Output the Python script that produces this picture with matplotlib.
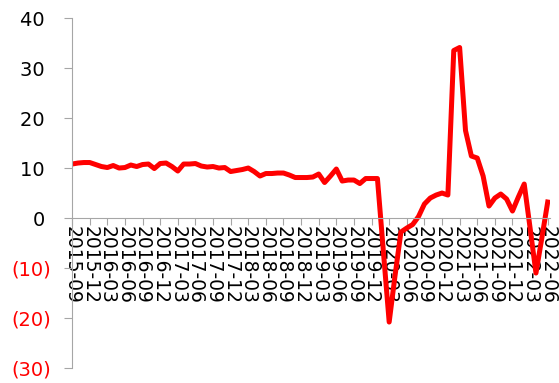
"""Monthly growth line chart, 2015-09 to 2022-06."""
import pandas as pd
import matplotlib
matplotlib.use("Agg")
import matplotlib.pyplot as plt

plt.rcParams.update({"font.family": "DejaVu Sans", "font.size": 14})

months = [p.strftime("%Y-%m") for p in pd.period_range("2015-09", "2022-06", freq="M")]

values = [
    10.8, 11.0, 11.1, 11.1,                                              # 2015-09..12
    10.7, 10.3, 10.1, 10.5, 10.0, 10.1, 10.6, 10.3, 10.7, 10.8, 9.9, 10.9,  # 2016
    11.0, 10.3, 9.4, 10.8, 10.8, 10.9, 10.4, 10.2, 10.3, 10.0, 10.1, 9.3,   # 2017
    9.5, 9.7, 10.0, 9.3, 8.4, 8.9, 8.9, 9.0, 9.0, 8.6, 8.1, 8.1,            # 2018
    8.1, 8.2, 8.8, 7.1, 8.4, 9.8, 7.4, 7.6, 7.6, 6.9, 7.9, 7.9,             # 2019
    7.9, -6.5, -20.8, -11.5, -2.8, -2.0, -1.3, 0.3, 2.8, 4.0, 4.6, 5.0,     # 2020
    4.6, 33.5, 34.1, 17.5, 12.4, 12.0, 8.4, 2.4, 4.0, 4.8, 3.8, 1.4,        # 2021
    4.2, 6.8, -2.0, -11.0, -4.0, 3.2,                                     # 2022-01..06
]

y_ticks = [-30, -20, -10, 0, 10, 20, 30, 40]


def fmt(v):
    return f"({abs(v)})" if v < 0 else f"{v} "


fig = plt.figure(figsize=(5.59, 3.83), dpi=100)
ax = fig.add_axes([0.129, 0.039, 0.855, 0.914])

x = list(range(len(values)))
ax.plot(x, values, color="#FF0000", linewidth=3.6, solid_joinstyle="round")

ax.set_xlim(0, 81.4)
ax.set_ylim(-30, 40)

grey = "#A6A6A6"
for side in ("top", "right"):
    ax.spines[side].set_visible(False)
ax.spines["left"].set_color(grey)
ax.spines["bottom"].set_color(grey)
ax.spines["bottom"].set_position(("data", 0))

ax.set_yticks(y_ticks)
ax.set_yticklabels([fmt(v) for v in y_ticks])
for lab, v in zip(ax.get_yticklabels(), y_ticks):
    lab.set_color("#FF0000" if v < 0 else "black")
ax.tick_params(axis="y", length=6, width=0.8, color=grey, pad=9)

ax.set_xticks(x[::3])
ax.set_xticklabels(months[::3], rotation=270, ha="center", va="top")
ax.tick_params(axis="x", length=5, width=0.8, color=grey, pad=1, labelsize=13.5)

fig.savefig("out.png", dpi=100)
